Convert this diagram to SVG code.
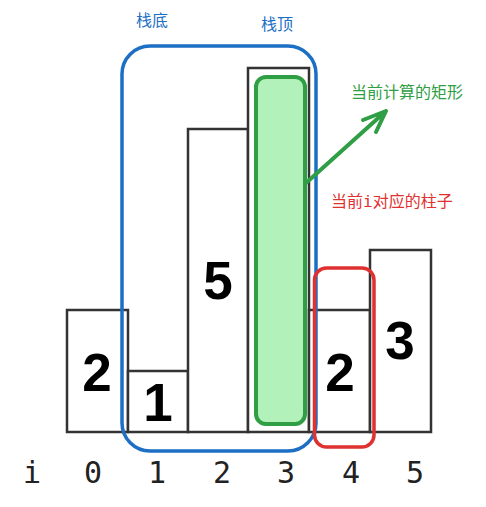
<svg xmlns="http://www.w3.org/2000/svg" width="486" height="507" viewBox="0 0 486 507">
<style>
.bar{fill:#fff;stroke:#333;stroke-width:2.5}
.num{font-family:"Liberation Sans",Arial,sans-serif;font-weight:bold;font-size:53px;fill:#000;text-anchor:middle}
.idx{font-family:"DejaVu Sans Mono",monospace;font-size:30px;fill:#222;text-anchor:middle}
.lbl{font-family:"Noto Sans CJK SC","Noto Sans",sans-serif;font-size:16px}
</style>
<rect width="486" height="507" fill="#fff"/>
<g id="bars">
<g id="bar0"><rect class="bar" x="67" y="310" width="61" height="122"/><text class="num" x="97" y="391">2</text></g>
<g id="bar1"><rect class="bar" x="128" y="371" width="60" height="61"/><text class="num" x="158" y="421">1</text></g>
<g id="bar2"><rect class="bar" x="188" y="129" width="60" height="303"/><text class="num" x="218" y="299">5</text></g>
<g id="bar3"><rect class="bar" x="248" y="68" width="61" height="364"/></g>
<g id="bar4"><rect class="bar" x="309" y="310" width="61" height="122"/><text class="num" x="340" y="391">2</text></g>
<g id="bar5"><rect class="bar" x="370" y="250" width="61" height="182"/><text class="num" x="400" y="359">3</text></g>
</g>
<g id="current-rect"><rect x="256" y="77" width="49" height="347" rx="10" fill="#b3f1bb" stroke="#2f9e44" stroke-width="4"/></g>
<g id="stack"><rect x="122" y="46" width="194" height="405" rx="28" fill="none" stroke="#1c6fc4" stroke-width="3.5"/></g>
<g id="current-i"><rect x="314.5" y="268" width="59.5" height="179" rx="12" fill="none" stroke="#e03131" stroke-width="3.5"/></g>
<g id="connectors">
<path d="M306 183 L386 111 M363 120 L386 111 L376 132" fill="none" stroke="#2f9e44" stroke-width="4" stroke-linecap="round" stroke-linejoin="round"/>
</g>
<g id="labels">
<text class="lbl" x="136" y="26" fill="#1c6fc4">栈底</text>
<text class="lbl" x="261" y="30" fill="#1c6fc4">栈顶</text>
<text class="lbl" x="351" y="98" fill="#2f9e44">当前计算的矩形</text>
<text class="lbl" x="331" y="207" fill="#e03131">当前<tspan font-family="DejaVu Sans Mono,monospace">i</tspan>对应的柱子</text>
</g>
<g id="indices">
<text class="idx" x="32" y="483">i</text>
<text class="idx" x="93" y="483">0</text>
<text class="idx" x="157" y="483">1</text>
<text class="idx" x="222" y="483">2</text>
<text class="idx" x="286" y="483">3</text>
<text class="idx" x="351" y="483">4</text>
<text class="idx" x="415" y="483">5</text>
</g>
</svg>
